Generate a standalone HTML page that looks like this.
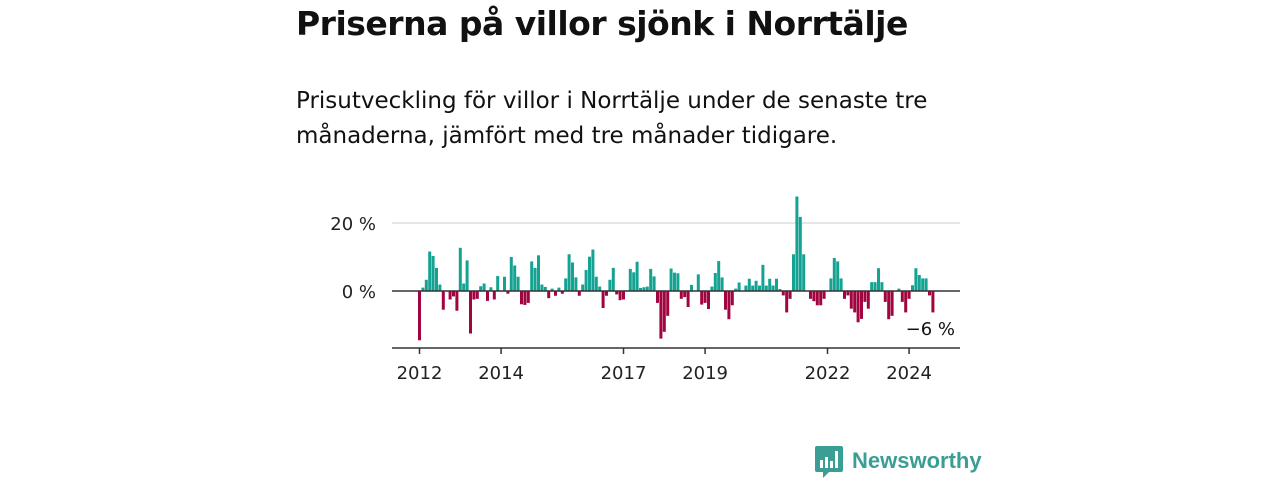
<!DOCTYPE html>
<html><head><meta charset="utf-8"><style>
body{margin:0;width:1280px;height:480px;background:#fff;font-family:"DejaVu Sans","Liberation Sans",sans-serif;color:#111;position:relative;overflow:hidden}
h1{position:absolute;left:296px;top:4px;margin:0;font-size:33px;font-weight:bold;letter-spacing:-0.5px}
p{position:absolute;left:296px;top:84px;margin:0;font-size:23px;line-height:35px;width:690px}
svg{position:absolute;left:0;top:0}
</style></head><body>
<h1>Priserna på villor sjönk i Norrtälje</h1>
<p>Prisutveckling för villor i Norrtälje under de senaste tre månaderna, jämfört med tre månader tidigare.</p>
<svg id="c" width="1280" height="480"></svg>
<script>
const values=[-14.5,1,3.3,11.6,10.3,6.8,1.9,-5.5,0,-2.5,-1.6,-5.8,12.7,2.2,9,-12.5,-2.5,-2.3,1.4,2.2,-2.9,1.1,-2.5,4.4,0,4.2,-0.8,10,7.5,4.2,-3.9,-4.1,-3.5,8.7,6.8,10.5,1.9,1.2,-2.1,0.7,-1.4,1,-0.8,3.7,10.8,8.4,4,-1.4,1.9,6.2,10.1,12.2,4.2,1.3,-5,-1.4,3.3,6.8,-1,-2.7,-2.5,0.2,6.5,5.5,8.6,0.9,1.1,1.3,6.5,4.3,-3.5,-14,-12,-7.3,6.6,5.4,5.2,-2.3,-1.8,-4.7,1.8,0,4.9,-4,-3.5,-5.3,1.3,5.3,8.8,4,-5.5,-8.3,-4.2,0.7,2.5,0,1.6,3.6,1.6,3,1.6,7.7,1.6,3.6,1.6,3.6,0.6,-1.3,-6.3,-2.3,10.8,27.8,21.8,10.8,0,-2.3,-3,-4.2,-4.2,-2.3,0,3.7,9.7,8.7,3.7,-2.3,-1.3,-5.2,-6.3,-9.2,-8.2,-3.2,-5.2,2.6,2.6,6.7,2.6,-3.2,-8.3,-7.3,0,0.7,-3.2,-6.3,-2.3,1.7,6.7,4.7,3.7,3.7,-1.3,-6.3];
const yTicks=[0,20];
const yTickLabels=["0 %","20 %"];
const xYears=[2012,2014,2017,2019,2022,2024];
const startYear=2012;
const ns="http://www.w3.org/2000/svg";
const svg=document.getElementById('c');
const x=i=>419.5+i*3.4;
const xYear=yr=>x((yr-startYear)*12);
const y=v=>291-v*3.4;
function mk(t,a){const e=document.createElementNS(ns,t);for(const k in a)e.setAttribute(k,a[k]);svg.appendChild(e);return e;}
yTicks.forEach((v,i)=>{
  if(v!==0){const g=mk('line',{x1:392,x2:960,y1:y(v),y2:y(v),stroke:'#ddd','stroke-width':1.5});
  
  }
  const t=mk('text',{x:376,y:y(v)+7,'text-anchor':'end','font-size':18,fill:'#222','font-family':'DejaVu Sans, sans-serif'});
  t.textContent=yTickLabels[i];
  
  
});
values.forEach((v,i)=>{
  const r=mk('rect',{x:x(i)-1.5,width:3,y:v>=0?y(v):y(0),height:Math.abs(v)*3.4,fill:v>=0?'#14a393':'#a1053f'});
  
  
});
const z=mk('line',{x1:392,x2:960,y1:y(0),y2:y(0),stroke:'#333','stroke-width':1.5});


const ax=mk('line',{x1:392,x2:960,y1:348,y2:348,stroke:'#333','stroke-width':1.5});


xYears.forEach(yr=>{
  const tk=mk('line',{x1:xYear(yr),x2:xYear(yr),y1:348,y2:354,stroke:'#333','stroke-width':1.5});
  
  
  const t=mk('text',{x:xYear(yr),y:379,'text-anchor':'middle','font-size':18,fill:'#222','font-family':'DejaVu Sans, sans-serif'});
  t.textContent=yr;
  
  
});
const last=values[values.length-1];
const lb=mk('text',{x:955,y:335,'text-anchor':'end','font-size':18,fill:'#111','font-family':'DejaVu Sans, sans-serif'});
lb.textContent='−'+Math.round(Math.abs(last))+' %';


</script>
<div style="position:absolute;left:815px;top:446px;width:170px;height:32px">
<svg width="28" height="34" viewBox="0 0 28 34" style="position:absolute;left:0;top:0"><path d="M2 0h24a2 2 0 0 1 2 2v22a2 2 0 0 1-2 2H14l-6 6v-6H2a2 2 0 0 1-2-2V2a2 2 0 0 1 2-2z" fill="#3a9e94"/><rect x="5" y="14" width="3" height="8" fill="#fff"/><rect x="10" y="11" width="3" height="11" fill="#fff"/><rect x="15" y="15" width="3" height="7" fill="#fff"/><rect x="20" y="5" width="3" height="17" fill="#fff"/></svg>
<span style="position:absolute;left:37px;top:2px;font-family:'Liberation Sans',sans-serif;font-size:22px;color:#3a9e94;font-weight:bold">Newsworthy</span>
</div>
</body></html>
